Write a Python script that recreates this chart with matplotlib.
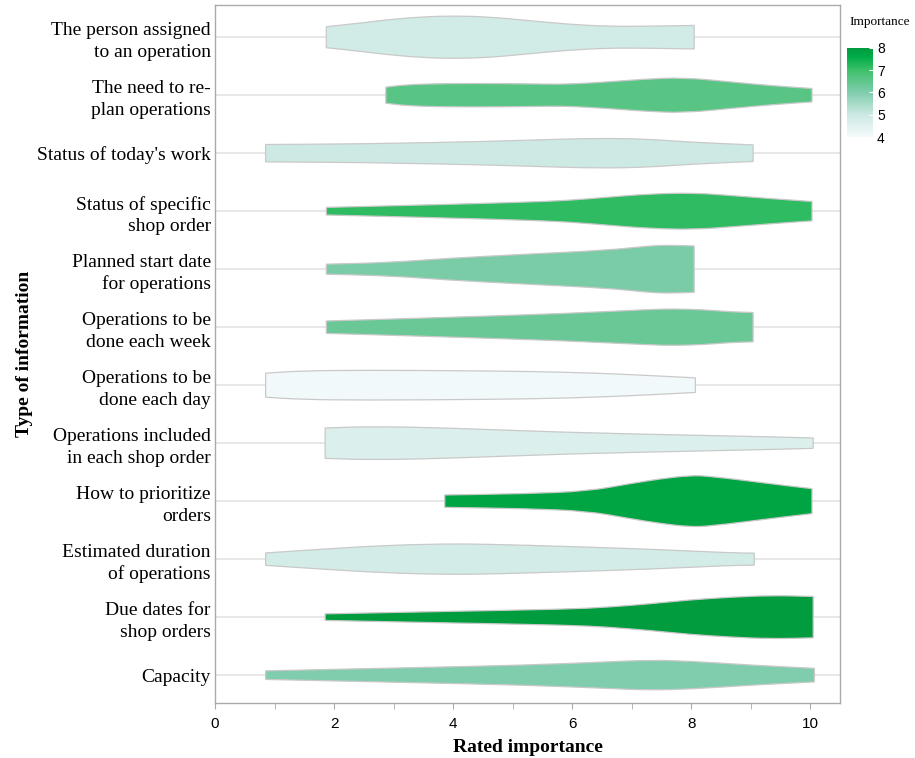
import matplotlib
matplotlib.use('Agg')
import matplotlib.pyplot as plt
from matplotlib.colors import LinearSegmentedColormap, Normalize
from matplotlib.path import Path
from matplotlib.patches import PathPatch
import matplotlib.cm as cm
import numpy as np

# categories, top to bottom
categories = [
    'The person assigned\nto an operation',
    'The need to re-\nplan operations',
    "Status of today's work",
    'Status of specific\nshop order',
    'Planned start date\nfor operations',
    'Operations to be\ndone each week',
    'Operations to be\ndone each day',
    'Operations included\nin each shop order',
    'How to prioritize\norders',
    'Estimated duration\nof operations',
    'Due dates for\nshop orders',
    'Capacity',
]

# mean importance (drives the fill colour)
importance = [4.9, 6.6, 5.0, 7.15, 6.1, 6.35, 4.05, 4.65, 7.75, 4.85, 7.95, 6.0]

# violin profiles: rating positions and density (half width)
prof_x = [
    [1.87, 2.5, 2.87, 3.5, 4.04, 4.6, 5.2, 5.92, 6.61, 7.3, 8.05],
    [2.87, 3.2, 3.86, 4.79, 5.63, 6.0, 6.6, 7.2, 7.87, 8.66, 9.35, 10.03],
    [0.85, 2.5, 4.55, 5.5, 6.47, 7.3, 7.98, 9.04],
    [1.87, 3.86, 5.2, 5.92, 6.6, 7.3, 8.05, 8.66, 9.35, 10.03],
    [1.87, 2.96, 3.86, 5.23, 6.6, 7.3, 7.6, 8.05],
    [1.87, 3.86, 5.92, 7.3, 7.7, 8.2, 8.66, 9.04],
    [0.85, 1.45, 2.5, 4.55, 5.92, 6.95, 8.07],
    [1.85, 2.64, 3.86, 5.92, 7.98, 9.35, 10.05],
    [3.86, 5.23, 6.26, 6.95, 7.5, 7.98, 8.32, 9.35, 10.03],
    [0.85, 1.81, 2.83, 3.86, 4.55, 5.92, 7.3, 8.66, 9.06],
    [1.85, 3.86, 5.92, 6.6, 7.3, 7.98, 8.66, 9.35, 10.05],
    [0.85, 3.18, 5.23, 6.6, 7.3, 7.98, 9.0, 10.07],
]
prof_w = [
    [10.5, 14.5, 17.3, 20.5, 21.3, 20.3, 17.0, 13.0, 10.8, 11.0, 11.8],
    [8.0, 10.5, 11.7, 11.7, 11.0, 11.2, 13.3, 16.0, 17.7, 13.3, 9.5, 6.7],
    [8.7, 9.3, 11.7, 13.5, 15.0, 14.0, 11.0, 8.3],
    [3.8, 6.7, 9.0, 10.7, 14.0, 17.3, 18.3, 15.7, 12.5, 9.7],
    [5.0, 6.7, 10.7, 15.0, 19.0, 23.3, 24.0, 23.2],
    [6.2, 9.7, 13.7, 17.7, 18.3, 17.5, 15.3, 14.7],
    [12.0, 14.3, 15.0, 14.3, 13.0, 10.7, 7.3],
    [15.2, 16.7, 15.3, 10.7, 8.0, 6.3, 5.2],
    [6.2, 7.5, 10.0, 17.3, 22.5, 25.7, 25.0, 17.3, 12.5],
    [6.2, 10.0, 13.7, 15.3, 15.0, 12.7, 10.0, 6.3, 6.0],
    [3.3, 5.7, 8.0, 10.0, 13.3, 17.3, 20.0, 21.7, 20.7],
    [4.3, 7.3, 10.0, 13.3, 15.0, 14.0, 10.0, 6.8],
]

cmap = LinearSegmentedColormap.from_list('imp', [
    (0.0, '#f4fafb'), (0.25, '#cde9e3'), (0.5, '#80cdad'),
    (0.75, '#3ec06a'), (0.9, '#00ac48'), (1.0, '#009a3d')])
norm = Normalize(vmin=4, vmax=8)

serif = ['Liberation Serif', 'DejaVu Serif']
narrow = ['Liberation Sans Narrow', 'Liberation Sans', 'DejaVu Sans']


def smooth_edge(pts):
    # quadratic bezier through midpoints, read points act as control points
    verts = [pts[0], ((pts[0][0] + pts[1][0]) / 2, (pts[0][1] + pts[1][1]) / 2)]
    codes = [Path.LINETO, Path.LINETO]
    for k in range(1, len(pts) - 1):
        mid = ((pts[k][0] + pts[k + 1][0]) / 2, (pts[k][1] + pts[k + 1][1]) / 2)
        verts += [pts[k], mid]
        codes += [Path.CURVE3, Path.CURVE3]
    verts.append(pts[-1])
    codes.append(Path.LINETO)
    return verts, codes


def violin_path(xs, ws, pos):
    top = [(x, pos - w) for x, w in zip(xs, ws)]
    bot = [(x, pos + w) for x, w in zip(xs, ws)][::-1]
    v1, c1 = smooth_edge(top)
    v2, c2 = smooth_edge(bot)
    c1[0] = Path.MOVETO
    verts = v1 + v2 + [top[0]]
    codes = c1 + c2 + [Path.CLOSEPOLY]
    return Path(verts, codes)


fig = plt.figure(figsize=(9.15, 7.58), dpi=100)
ax = fig.add_axes([0.235, 0.0726, 0.683, 0.9204])

scale = 1 / 58.0
for i in range(len(categories)):
    ws = np.array(prof_w[i]) * scale
    ax.axhline(i, color='#e3e3e3', lw=1.2, zorder=1)
    patch = PathPatch(violin_path(prof_x[i], ws, i), facecolor=cmap(norm(importance[i])),
                      edgecolor='#c9c9c9', lw=0.9, zorder=2)
    ax.add_patch(patch)

ax.set_xlim(0, 10.5)
ax.set_ylim(11.48, -0.55)
ax.set_xticks([0, 2, 4, 6, 8, 10])
ax.set_xticks([1, 3, 5, 7, 9], minor=True)
ax.set_yticks(range(len(categories)))
ax.set_yticklabels(categories, family=serif, fontsize=14, linespacing=1.35)
for lab in ax.get_xticklabels():
    lab.set_family(narrow)
    lab.set_fontsize(11)
ax.tick_params(axis='y', length=0, pad=3)
ax.tick_params(axis='x', which='both', length=4, color='#aaaaaa', pad=6)
for s in ax.spines.values():
    s.set_color('#aaaaaa')
    s.set_linewidth(1.0)

ax.set_xlabel('Rated importance', family=serif, fontsize=14, fontweight='bold', labelpad=6)
ax.set_ylabel('Type of information', family=serif, fontsize=14, fontweight='bold', labelpad=3)

# colour legend
cax = fig.add_axes([0.926, 0.819, 0.028, 0.118])
cb = fig.colorbar(cm.ScalarMappable(norm=norm, cmap=cmap), cax=cax, ticks=[4, 5, 6, 7, 8])
cb.outline.set_visible(False)
cax.tick_params(length=3, color='#ffffff', direction='in', pad=3)
for lab in cax.get_yticklabels():
    lab.set_family(narrow)
    lab.set_fontsize(10)
fig.text(0.962, 0.971, 'Importance', family=serif, fontsize=9.5, ha='center', va='center')

fig.savefig('out.png', dpi=100)
